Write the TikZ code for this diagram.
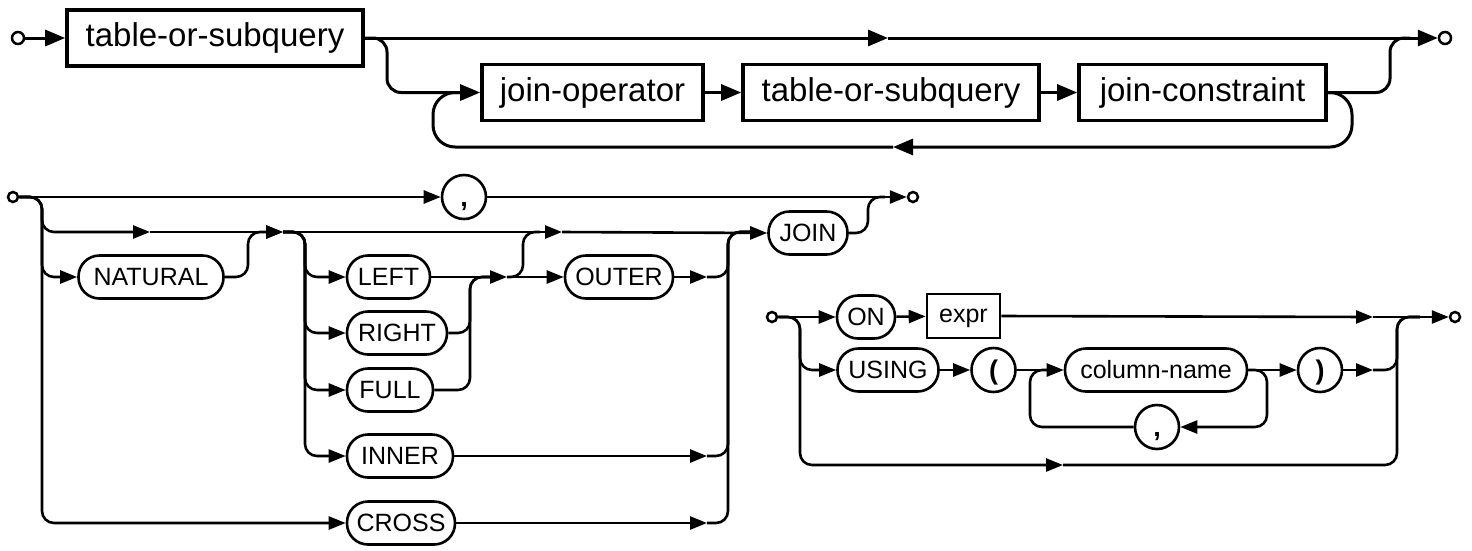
\documentclass[tikz,border=0pt]{standalone}
\usepackage{fontspec}
\setmainfont{Liberation Sans}
\usetikzlibrary{arrows.meta}
\tikzset{
  topln/.style={line width=3pt, rounded corners=14pt},
  ln/.style={line width=2.6pt, rounded corners=12pt},
  bigtip/.style={-{Triangle[length=20pt,width=16pt]}},
  tip/.style={-{Triangle[length=17pt,width=13pt]}},
  term/.style={circle, draw, line width=2.5pt, fill=white, minimum size=12pt, inner sep=0pt},
  bigbox/.style={draw, line width=3.6pt, minimum height=56pt, inner sep=0pt, font=\fontsize{33}{38}\selectfont},
  smallbox/.style={draw, line width=2.6pt, minimum height=44pt, inner sep=0pt, text height=18pt, text depth=5pt, font=\fontsize{25}{28}\selectfont},
  pill/.style={draw, line width=2.6pt, rounded corners=21pt, minimum height=43pt, inner sep=0pt, font=\fontsize{25}{28}\selectfont},
  pillc/.style={circle, draw, line width=2.6pt, minimum size=44pt, inner sep=0pt, text height=18pt, text depth=0pt, font=\fontsize{27}{30}\selectfont\bfseries}
}
\begin{document}
\begin{tikzpicture}[x=1pt,y=-1pt]
\useasboundingbox (0,0) rectangle (1472,550);
% ---------- top diagram ----------
\node[term] (s1) at (18,38) {};
\node[bigbox, minimum width=296pt] (b1) at (215,38) {table-or-subquery};
\node[bigbox, minimum width=221pt] (b2) at (592.5,92.5) {join-operator};
\node[bigbox, minimum width=296pt] (b3) at (891,92.5) {table-or-subquery};
\node[bigbox, minimum width=247pt] (b4) at (1202.5,92.5) {join-constraint};
\node[term] (e1) at (1445,38) {};
\coordinate (m1) at (888,38);
\coordinate (m2) at (893,147);
\draw[topln, bigtip] (s1) -- (b1);
\draw[topln, bigtip] (b1.east) -- (m1);
\draw[topln, bigtip] (m1) -- (e1);
\draw[topln, bigtip] (b1.east) -- (387,38) -- (387,92.5) -- (b2.west);
\draw[topln, bigtip] (b2) -- (b3);
\draw[topln, bigtip] (b3) -- (b4);
\draw[topln] (b4.east) -- (1390,92.5) -- (1390,38) -- (1410,38);
\draw[topln, bigtip, rounded corners=22pt] (b4.east) -- (1352,92.5) -- (1352,147) -- (m2);
\draw[topln, rounded corners=22pt] (m2) -- (433,147) -- (433,92.5) -- (465,92.5);
% ---------- join-operator ----------
\node[term, minimum size=10pt] (s2) at (13,197) {};
\node[pillc] (c1) at (464,197) {,};
\node[term, minimum size=10pt] (e2) at (913,197) {};
\node[pill, minimum width=145pt] (nat) at (151,277) {NATURAL};
\node[pill, minimum width=83pt] (left) at (388.5,277) {LEFT};
\node[pill, minimum width=100pt] (right) at (397,333) {RIGHT};
\node[pill, minimum width=86pt] (full) at (390,390) {FULL};
\node[pill, minimum width=106pt] (inner) at (400,456) {INNER};
\node[pill, minimum width=108pt] (cross) at (401,523) {CROSS};
\node[pill, minimum width=108pt] (outer) at (619,277) {OUTER};
\node[pill, minimum width=79pt] (join) at (808,233) {JOIN};
\coordinate (m3) at (150,232);
\coordinate (j1) at (283,232);
\coordinate (m5) at (562,232);
\coordinate (m6) at (507,277);
\coordinate (m7) at (707,277);
\coordinate (m8) at (707,456);
\coordinate (m9) at (707,523);
\draw[ln, tip] (s2) -- (c1);
\draw[ln, tip] (c1) -- (e2);
\draw[ln, tip] (s2.east) -- (42,197) -- (42,232) -- (m3);
\draw[ln, tip] (m3) -- (j1);
\draw[ln, tip] (s2.east) -- (42,197) -- (42,277) -- (nat.west);
\draw[ln, tip] (s2.east) -- (42,197) -- (42,523) -- (cross.west);
\draw[ln, tip] (nat.east) -- (248,277) -- (248,232) -- (j1);
\draw[ln, tip] (j1) -- (305,232) -- (305,277) -- (left.west);
\draw[ln, tip] (j1) -- (305,232) -- (305,333) -- (right.west);
\draw[ln, tip] (j1) -- (305,232) -- (305,390) -- (full.west);
\draw[ln, tip] (j1) -- (305,232) -- (305,456) -- (inner.west);
\draw[ln, tip] (j1) -- (m5);
\draw[ln, tip] (m5) -- (join.west);
\draw[ln, tip] (left.east) -- (m6);
\draw[ln] (right.east) -- (470,333) -- (470,277) -- (490,277);
\draw[ln] (full.east) -- (470,390) -- (470,277) -- (490,277);
\draw[ln, tip] (m6) -- (outer.west);
\draw[ln] (m6) -- (523,277) -- (523,232) -- (540,232);
\draw[ln, tip] (outer.east) -- (m7);
\draw[ln] (m7) -- (728,277) -- (728,232) -- (750,232);
\draw[ln, tip] (inner.east) -- (m8);
\draw[ln] (m8) -- (728,456) -- (728,232) -- (750,232);
\draw[ln, tip] (cross.east) -- (m9);
\draw[ln] (m9) -- (728,523) -- (728,232) -- (750,232);
\draw[ln] (join.east) -- (868,233) -- (868,197) -- (885,197);
% ---------- join-constraint ----------
\node[term, minimum size=10pt] (s3) at (772,317) {};
\node[term, minimum size=10pt] (e3) at (1455,317) {};
\node[pill, minimum width=58pt] (on) at (866,317) {ON};
\node[smallbox, minimum width=73pt] (expr) at (963.5,316) {expr};
\node[pill, minimum width=101pt] (using) at (888,370) {USING};
\node[pillc] (lp) at (993.5,370) {(};
\node[pill, minimum width=182pt] (col) at (1156,370) {column-name};
\node[pillc] (rp) at (1320,370) {)};
\node[pillc] (c2) at (1157,427) {,};
\coordinate (m10) at (1373,317);
\coordinate (m11) at (1373,370);
\coordinate (m12) at (1063,465);
\draw[ln, tip] (s3) -- (on);
\draw[ln, tip] (on) -- (expr);
\draw[ln, tip] (expr.east) -- (m10);
\draw[ln, tip] (m10) -- (e3);
\draw[ln, tip] (s3.east) -- (800,317) -- (800,370) -- (using.west);
\draw[ln, tip] (using) -- (lp);
\draw[ln, tip] (lp) -- (col);
\draw[ln, tip] (col) -- (rp);
\draw[ln, tip] (col.east) -- (1267,370) -- (1267,427) -- (c2.east);
\draw[ln] (c2.west) -- (1030,427) -- (1030,370) -- (1050,370);
\draw[ln, tip] (rp.east) -- (m11);
\draw[ln] (m11) -- (1397,370) -- (1397,317) -- (1420,317);
\draw[ln, tip] (s3.east) -- (800,317) -- (800,465) -- (m12);
\draw[ln] (m12) -- (1397,465) -- (1397,317) -- (1420,317);
\end{tikzpicture}
\end{document}
